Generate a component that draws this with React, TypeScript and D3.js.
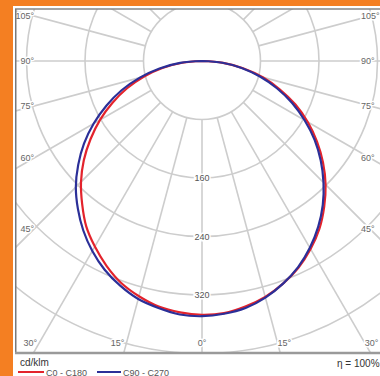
import React from "react";
import * as d3 from "d3";

// gamma angles (degrees from nadir)
const gammaAngles = [0, 5, 10, 15, 20, 25, 30, 35, 40, 45, 50, 55, 60, 65, 70, 75, 80, 85, 90];
// intensities in cd/klm for each half plane
const c180Values = [347, 345, 341, 333, 323, 309, 293, 276, 255, 234, 211, 186, 161, 135, 109, 82, 55, 27, 0];
const c0Values = [347, 346, 341, 334, 324, 312, 297, 280, 260, 239, 216, 192, 167, 141, 113, 86, 57, 29, 0];
const c270Values = [349, 348, 343, 337, 327, 315, 300, 283, 264, 244, 221, 197, 171, 144, 117, 88, 59, 30, 0];
const c90Values = [349, 347, 343, 335, 324, 311, 295, 277, 257, 235, 212, 188, 162, 136, 109, 82, 55, 28, 0];

const ringValues = [80, 160, 240, 320, 400, 480];
const ringLabels = [160, 240, 320];
const radialAngles = d3.range(0, 360, 15);
const angleLabels = [0, 15, 30, 45, 60, 75, 90, 105];
const unitLabel = "cd/klm";
const efficiencyLabel = "η = 100%";
const seriesNames = ["C0 - C180", "C90 - C270"];

const W = 380;
const H = 376;
const cx = 202;
const cy = 61;
const frame = { left: 15, top: 9, right: 392, bottom: 353 };
const labelHalfWidth = 168;
const labelBottom = 343;
const RED = "#e3232c";
const BLUE = "#2b2f98";
const GRID = "#cdcdcd";

const r = d3.scaleLinear().domain([0, 400]).range([0, 292.5]);
const toRad = (deg: number) => (deg * Math.PI) / 180;

function curvePath(left: number[], right: number[]) {
  const pts: [number, number][] = [];
  for (let i = gammaAngles.length - 1; i >= 0; i--) {
    pts.push([Math.PI + toRad(gammaAngles[i]), r(left[i])]);
  }
  for (let i = 1; i < gammaAngles.length; i++) {
    pts.push([Math.PI - toRad(gammaAngles[i]), r(right[i])]);
  }
  const line = d3
    .lineRadial<[number, number]>()
    .angle((d) => d[0])
    .radius((d) => d[1])
    .curve(d3.curveCatmullRom.alpha(0.5));
  return line(pts) || "";
}

function labelPositions(g: number) {
  const out: { x: number; y: number; anchor: string; baseline: string }[] = [];
  const s = Math.sin(toRad(g));
  const c = Math.cos(toRad(g));
  if (g === 0) {
    out.push({ x: cx, y: labelBottom + 3, anchor: "middle", baseline: "auto" });
    return out;
  }
  const y = cy + (labelHalfWidth / s) * c;
  if (y <= labelBottom - 4) {
    out.push({ x: cx - labelHalfWidth, y, anchor: "end", baseline: "central" });
    out.push({ x: cx + labelHalfWidth - 9, y, anchor: "start", baseline: "central" });
  } else {
    const t = (labelBottom - cy) / c;
    const dx = t * s;
    out.push({ x: cx - dx - 2, y: labelBottom + 3, anchor: "end", baseline: "auto" });
    out.push({ x: cx + dx, y: labelBottom + 3, anchor: "start", baseline: "auto" });
  }
  return out;
}

export default function App() {
  const font = "'Liberation Sans', Arial, sans-serif";
  return (
    <svg
      width={W}
      height={H}
      viewBox={`0 0 ${W} ${H}`}
      style={{ position: "absolute", left: 0, top: 0, background: "#fff" }}
      fontFamily={font}
    >
      <defs>
        <clipPath id="plotClip">
          <rect x={frame.left} y={frame.top} width={frame.right - frame.left} height={frame.bottom - frame.top} />
        </clipPath>
      </defs>
      <rect x={0} y={0} width={W} height={H} fill="#fff" />
      {/* orange surround */}
      <rect x={0} y={0} width={W} height={6} fill="#f47f22" />
      <rect x={0} y={0} width={13} height={H} fill="#f47f22" />

      <g clipPath="url(#plotClip)">
        {/* radial lines */}
        {radialAngles.map((a) => {
          const th = toRad(a);
          const r0 = r(80);
          const r1 = 700;
          return (
            <line
              key={"rad" + a}
              x1={cx + r0 * Math.sin(th)}
              y1={cy + r0 * Math.cos(th)}
              x2={cx + r1 * Math.sin(th)}
              y2={cy + r1 * Math.cos(th)}
              stroke={GRID}
              strokeWidth={1.6}
            />
          );
        })}
        {/* rings */}
        {ringValues.map((v) => (
          <circle key={"ring" + v} cx={cx} cy={cy} r={r(v)} fill="none" stroke={GRID} strokeWidth={1.6} />
        ))}
        {/* ring labels */}
        {ringLabels.map((v) => (
          <text
            key={"rl" + v}
            x={cx}
            y={cy + r(v)}
            textAnchor="middle"
            dominantBaseline="central"
            fontSize={9}
            fill="#555"
            stroke="#fff"
            strokeWidth={3}
            paintOrder="stroke"
          >
            {v}
          </text>
        ))}
        {/* angle labels */}
        {angleLabels.map((g) =>
          labelPositions(g).map((p, i) => (
            <text
              key={"al" + g + "_" + i}
              x={p.x}
              y={p.y}
              textAnchor={p.anchor as any}
              dominantBaseline={p.baseline as any}
              fontSize={9}
              fill="#666"
              stroke="#fff"
              strokeWidth={3}
              paintOrder="stroke"
            >
              {g + "°"}
            </text>
          ))
        )}
        {/* curves */}
        <g transform={`translate(${cx},${cy})`}>
          <path d={curvePath(c180Values, c0Values)} fill="none" stroke={RED} strokeWidth={2.2} />
          <path d={curvePath(c270Values, c90Values)} fill="none" stroke={BLUE} strokeWidth={2.2} />
        </g>
      </g>

      {/* frame */}
      <line x1={frame.left} y1={frame.top} x2={W} y2={frame.top} stroke="#858585" strokeWidth={1.5} />
      <line x1={frame.left + 0.75} y1={frame.top} x2={frame.left + 0.75} y2={frame.bottom} stroke="#7a7a7a" strokeWidth={1.5} />
      <line x1={frame.left} y1={frame.bottom} x2={W} y2={frame.bottom} stroke="#9a9a9a" strokeWidth={2.4} />

      {/* legend */}
      <text x={20} y={366} fontSize={10} fill="#333">
        {unitLabel}
      </text>
      <line x1={18} y1={372} x2={44} y2={372} stroke={RED} strokeWidth={2} />
      <text x={46} y={375.5} fontSize={9} fill="#555">
        {seriesNames[0]}
      </text>
      <line x1={97} y1={372} x2={121} y2={372} stroke={BLUE} strokeWidth={2} />
      <text x={123} y={375.5} fontSize={9} fill="#555">
        {seriesNames[1]}
      </text>
      <text x={337} y={367} fontSize={10} fill="#333">
        {efficiencyLabel}
      </text>
    </svg>
  );
}
